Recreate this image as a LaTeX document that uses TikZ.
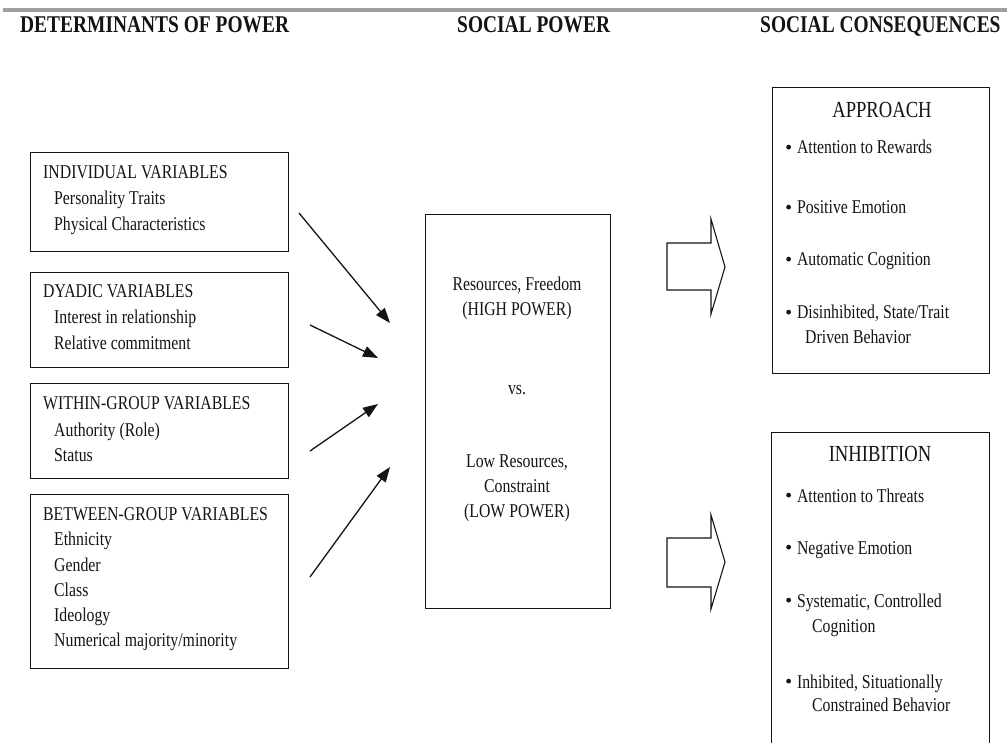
\documentclass[tikz,border=0pt]{standalone}
\usepackage{fontspec}
\setmainfont{Liberation Serif}[FakeStretch=0.81]
\usetikzlibrary{arrows.meta}
\definecolor{barcol}{RGB}{160,160,160}
\definecolor{ink}{RGB}{20,20,20}
\newcommand{\bul}{\raisebox{0.5ex}{\tikz\fill[ink] (0,0) circle (2.4pt);}\hspace{6pt}}
\begin{document}
\begin{tikzpicture}[x=1pt,y=-1pt,
  hdr/.style={anchor=base west,inner sep=0pt,font=\fontsize{24}{28}\selectfont\bfseries,text=ink},
  txt/.style={anchor=base west,inner sep=0pt,font=\fontsize{19.5}{26}\selectfont,text=ink},
  ctxt/.style={anchor=base,inner sep=0pt,font=\fontsize{19.5}{26}\selectfont,text=ink},
  ttl/.style={anchor=base,inner sep=0pt,font=\fontsize{23}{26}\selectfont,text=ink},
  box/.style={draw=ink,line width=1.3pt,anchor=north west,inner sep=0pt},
  conn/.style={draw=ink,line width=1.3pt,-{Triangle[length=15pt,width=11pt]}},
  blk/.style={draw=ink,line width=1.1pt,line join=miter}
]
\useasboundingbox (0,0) rectangle (1007,743);
\fill[barcol] (3,8) rectangle (1007,12);

% headers
\node[hdr] (h1) at (20,33) {DETERMINANTS OF POWER};
\node[hdr] (h2) at (457,33) {SOCIAL POWER};
\node[hdr] (h3) at (760,33) {SOCIAL CONSEQUENCES};

% left boxes
\node[box,minimum width=258pt,minimum height=99pt] (ind) at (30,152) {};
\node[txt] (ind0) at (43,179) {INDIVIDUAL VARIABLES};
\node[txt] (ind1) at (54,205) {Personality Traits};
\node[txt] (ind2) at (54,231) {Physical Characteristics};

\node[box,minimum width=258pt,minimum height=95pt] (dya) at (30,272) {};
\node[txt] (dya0) at (43,298) {DYADIC VARIABLES};
\node[txt] (dya1) at (54,324) {Interest in relationship};
\node[txt] (dya2) at (54,350) {Relative commitment};

\node[box,minimum width=258pt,minimum height=95pt] (wit) at (30,383) {};
\node[txt] (wit0) at (43,409) {WITHIN-GROUP VARIABLES};
\node[txt] (wit1) at (54,436) {Authority (Role)};
\node[txt] (wit2) at (54,461) {Status};

\node[box,minimum width=258pt,minimum height=174pt] (bet) at (30,494) {};
\node[txt] (bet0) at (43,520) {BETWEEN-GROUP VARIABLES};
\node[txt] (bet1) at (54,545) {Ethnicity};
\node[txt] (bet2) at (54,571) {Gender};
\node[txt] (bet3) at (54,596) {Class};
\node[txt] (bet4) at (54,621) {Ideology};
\node[txt] (bet5) at (54,646) {Numerical majority/minority};

% arrows into social power
\coordinate (s1) at (299,213); \coordinate (e1) at (390,323);
\coordinate (s2) at (310,325); \coordinate (e2) at (378,358);
\coordinate (s3) at (310,451); \coordinate (e3) at (378,404);
\coordinate (s4) at (310,577); \coordinate (e4) at (390,467);
\draw[conn] (s1) -- (e1);
\draw[conn] (s2) -- (e2);
\draw[conn] (s3) -- (e3);
\draw[conn] (s4) -- (e4);

% central box
\node[box,minimum width=185pt,minimum height=394pt] (pow) at (425,214) {};
\node[ctxt] (p1) at (517,291) {Resources, Freedom};
\node[ctxt] (p2) at (517,316) {(HIGH POWER)};
\node[ctxt] (p3) at (517,394) {vs.};
\node[ctxt] (p4) at (517,467) {Low Resources,};
\node[ctxt] (p5) at (517,492) {Constraint};
\node[ctxt] (p6) at (517,517) {(LOW POWER)};

% block arrows
\draw[blk] (667,243) -- (711,243) -- (711,219) -- (725,267) -- (711,314) -- (711,290) -- (667,290) -- cycle;
\draw[blk] (667,538) -- (711,538) -- (711,515) -- (725,562) -- (711,609) -- (711,587) -- (667,587) -- cycle;

% approach box
\node[box,minimum width=217pt,minimum height=286pt] (app) at (772,87) {};
\node[ttl] (app0) at (882,118) {APPROACH};
\node[txt] (app1) at (786,154) {\bul Attention to Rewards};
\node[txt] (app2) at (786,214) {\bul Positive Emotion};
\node[txt] (app3) at (786,266) {\bul Automatic Cognition};
\node[txt] (app4) at (786,319) {\bul Disinhibited, State/Trait};
\node[txt] (app5) at (805,344) {Driven Behavior};

% inhibition box (runs off the bottom)
\node[box,minimum width=218pt,minimum height=330pt] (inh) at (771,432) {};
\node[ttl] (inh0) at (880,461) {INHIBITION};
\node[txt] (inh1) at (786,502) {\bul Attention to Threats};
\node[txt] (inh2) at (786,554) {\bul Negative Emotion};
\node[txt] (inh3) at (786,607) {\bul Systematic, Controlled};
\node[txt] (inh4) at (812,632) {Cognition};
\node[txt] (inh5) at (786,688) {\bul Inhibited, Situationally};
\node[txt] (inh6) at (812,711) {Constrained Behavior};
\end{tikzpicture}
\end{document}
